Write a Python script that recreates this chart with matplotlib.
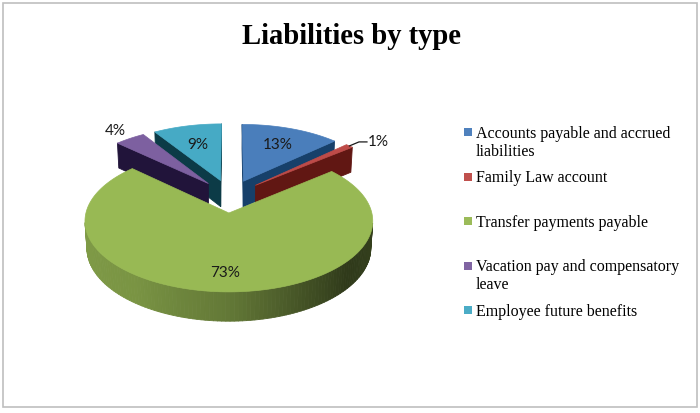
import numpy as np
import matplotlib
matplotlib.use('Agg')
import matplotlib.pyplot as plt
from matplotlib.patches import Polygon, Rectangle
from matplotlib.colors import to_rgb

# ---------------- data ----------------
title = "Liabilities by type"
categories = ["Accounts payable and accrued liabilities", "Family Law account",
              "Transfer payments payable", "Vacation pay and compensatory leave",
              "Employee future benefits"]
values = [13, 1, 73, 4, 9]
legend_lines = [["Accounts payable and accrued", "liabilities"], ["Family Law account"],
                ["Transfer payments payable"], ["Vacation pay and compensatory", "leave"],
                ["Employee future benefits"]]

# ---------------- style ----------------
top_colors = ['#4A7EBB', '#BE4B48', '#98B954', '#7D60A0', '#46AAC5']
wall_colors = ['#17406A', '#611713', '#3A4A1F', '#21143A', '#0C3B47']
legend_colors = ['#4F81BD', '#C0504D', '#9BBB59', '#8064A2', '#4BACC6']
label_radius = [0.94, 1.25, 1.02, 1.45, 0.90]

W, Hpx = 700, 414
fig = plt.figure(figsize=(7.0, 4.14), dpi=100)
ax = fig.add_axes([0, 0, 1, 1])
ax.set_xlim(0, W)
ax.set_ylim(Hpx, 0)
ax.axis('off')

# projection (perspective 3D pie)
CX, CY = 230.0, 197.0
S = 139.0
PHI = np.radians(28.4)
sn, cs = np.sin(PHI), np.cos(PHI)
DIST = 7.95
EXPLODE = 0.25
DEPTH = 0.22
CAM = np.array([0.0, -DIST * cs, DIST * sn])


def proj(X, Y, Z):
    X = np.asarray(X, float); Y = np.asarray(Y, float); Z = np.asarray(Z, float)
    w = DIST + Y * cs - Z * sn
    f = DIST / w
    v = Y * sn + Z * cs
    return CX + S * X * f, CY - S * v * f, w


shade_ang = [0, 90, 180, 234, 270, 300, 320, 360]
shade_fac = [0.36, 0.6, 0.85, 0.80, 0.65, 0.43, 0.31, 0.36]


def rim_color(base, ang_deg):
    k = np.interp(ang_deg % 360, shade_ang, shade_fac)
    return tuple(np.clip(np.array(to_rgb(base)) * k, 0, 1))


total = float(sum(values))
cum = np.concatenate([[0], np.cumsum(values)]) / total
slices = []
for i in range(len(values)):
    t1 = 90 - 360 * cum[i]       # CCW end
    t2 = 90 - 360 * cum[i + 1]   # CW end
    mid = np.radians((t1 + t2) / 2)
    ox, oy = EXPLODE * np.cos(mid), EXPLODE * np.sin(mid)
    n = max(2, int(abs(t1 - t2) / 1.5) + 1)
    arc = np.radians(np.linspace(t2, t1, n))
    faces = []
    # walls
    for t, nrm in ((np.radians(t1), (-np.sin(np.radians(t1)), np.cos(np.radians(t1)))),
                   (np.radians(t2), (np.sin(np.radians(t2)), -np.cos(np.radians(t2))))):
        px = np.array([ox, ox + np.cos(t), ox + np.cos(t), ox])
        py = np.array([oy, oy + np.sin(t), oy + np.sin(t), oy])
        pz = np.array([0, 0, -DEPTH, -DEPTH])
        c3 = np.array([px.mean(), py.mean(), pz.mean()])
        if np.dot(np.array([nrm[0], nrm[1], 0.0]), CAM - c3) > 0:
            sx, sy, w = proj(px, py, pz)
            faces.append((w.mean(), np.column_stack([sx, sy]), wall_colors[i]))
    # rim
    for j in range(n - 1):
        a0, a1 = arc[j], arc[j + 1]
        am = (a0 + a1) / 2
        px = np.array([ox + np.cos(a0), ox + np.cos(a1), ox + np.cos(a1), ox + np.cos(a0)])
        py = np.array([oy + np.sin(a0), oy + np.sin(a1), oy + np.sin(a1), oy + np.sin(a0)])
        pz = np.array([0, 0, -DEPTH, -DEPTH])
        c3 = np.array([px.mean(), py.mean(), pz.mean()])
        if np.dot(np.array([np.cos(am), np.sin(am), 0.0]), CAM - c3) > 0:
            sx, sy, w = proj(px, py, pz)
            faces.append((w.mean(), np.column_stack([sx, sy]),
                          rim_color(top_colors[i], np.degrees(am))))
    # top
    tx = np.concatenate([[ox], ox + np.cos(arc)])
    ty = np.concatenate([[oy], oy + np.sin(arc)])
    sx, sy, w = proj(tx, ty, np.zeros_like(tx))
    top = np.column_stack([sx, sy])
    cdepth = w.mean()
    slices.append((cdepth, faces, top, i))

for cdepth, faces, top, i in sorted(slices, key=lambda s: -s[0]):
    for d, verts, col in sorted(faces, key=lambda f: -f[0]):
        ax.add_patch(Polygon(verts, closed=True, facecolor=col, edgecolor=col,
                             linewidth=0.6, joinstyle='round'))
    ax.add_patch(Polygon(top, closed=True, facecolor=top_colors[i],
                         edgecolor=top_colors[i], linewidth=0.5, joinstyle='round'))

# data labels
lab_font = dict(family=['Lato', 'DejaVu Sans'], fontsize=11, color='#1a1a1a')
for i, v in enumerate(values):
    t1 = 90 - 360 * cum[i]
    t2 = 90 - 360 * cum[i + 1]
    mid = np.radians((t1 + t2) / 2)
    txt = f"{v}%"
    r = label_radius[i]
    if i == 1:
        x0, y0, _ = proj(r * np.cos(mid), r * np.sin(mid), 0)
        x1, y1, _ = proj(1.36 * np.cos(mid), 1.36 * np.sin(mid), 0)
        ax.plot([x0, x1, x1 + 8], [y0, y1, y1], color='#1a1a1a', lw=0.9)
        ax.text(x1 + 9, y1 - 1, txt, ha='left', va='center', **lab_font)
    else:
        x, y, _ = proj(r * np.cos(mid), r * np.sin(mid), 0)
        ax.text(x, y, txt, ha='center', va='center', **lab_font)

# title
ax.text(351, 44.5, title, ha='center', va='baseline', fontsize=20.6, fontweight='bold',
        family=['Liberation Serif', 'DejaVu Serif'], color='black')

# legend
base_y, step, line_h = 137.7, 44.5, 18.0
for i, lines in enumerate(legend_lines):
    by = base_y + i * step
    ax.add_patch(Rectangle((463.5, by - 8.5), 8, 8, facecolor=legend_colors[i],
                           edgecolor='none'))
    for k, line in enumerate(lines):
        ax.text(476, by + k * line_h, line, ha='left', va='baseline', fontsize=11.5,
                family=['Liberation Serif', 'DejaVu Serif'], color='black')

# chart border
ax.add_patch(Rectangle((2.5, 4), 694.5, 404, facecolor='none', edgecolor='#BFBFBF', lw=1.2))

fig.savefig('out.png', dpi=100)
